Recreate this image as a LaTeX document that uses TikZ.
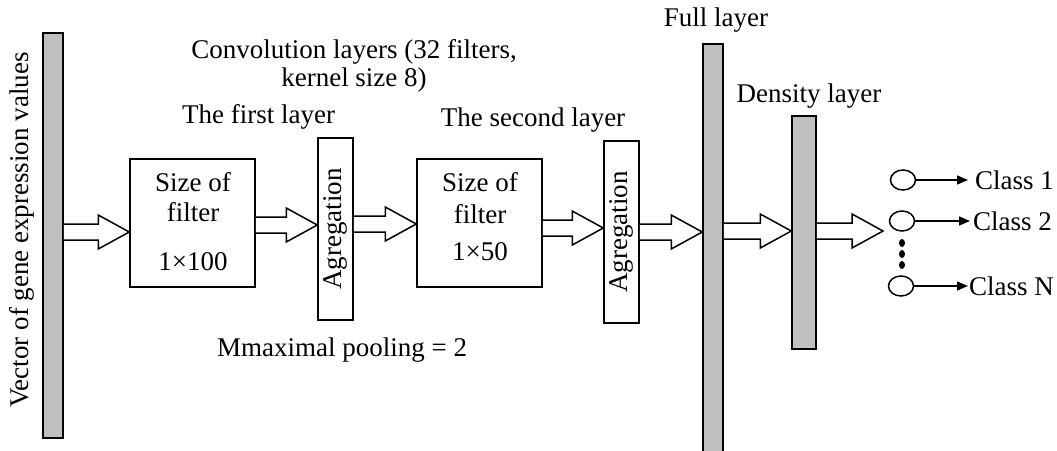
\documentclass[tikz,border=0pt]{standalone}
\usepackage{fontspec}
\setmainfont{Liberation Serif}
\usetikzlibrary{shapes.geometric,arrows.meta,calc}

% hollow block arrow between two points (same height, taken from the first)
\newcommand\fatarrow[2]{%
  \path[fat] let \p1=#1, \p2=#2 in
    (\x1,\y1+8pt) -- (\x2-31pt,\y1+8pt) -- (\x2-31pt,\y1+17pt) -- (\x2,\y1)
    -- (\x2-31pt,\y1-17pt) -- (\x2-31pt,\y1-8pt) -- (\x1,\y1-8pt);}

\begin{document}
\begin{tikzpicture}[x=1pt,y=-1pt,
  every node/.style={font=\fontsize{27}{30}\selectfont},
  bar/.style={draw, fill=black!25, line width=1.5pt, inner sep=0pt},
  box/.style={draw, fill=white, line width=1.5pt, inner sep=0pt, align=center},
  lbl/.style={inner sep=0pt, align=center},
  fat/.style={draw, fill=white, line width=1.5pt, line join=miter},
  outnode/.style={draw, ellipse, line width=1.5pt, minimum width=25pt, minimum height=20pt, inner sep=0pt},
  cls/.style={-{Triangle[length=11pt,width=9pt]}, line width=1.5pt},
]
\useasboundingbox (0,0) rectangle (1057,450);

% input vector
\node[bar, minimum width=20pt, minimum height=405pt] (vin) at (53,235.5) {};
\node[lbl, rotate=90] (vinlbl) at (22,230) {Vector of gene expression values};

% headings
\node[lbl, font=\fontsize{27}{28}\selectfont] (conv) at (354,66) {Convolution layers (32 filters,\\kernel size 8)};
\node[lbl] (first) at (258.5,117) {The first layer};
\node[lbl] (second) at (533,120) {The second layer};
\node[lbl] (pool) at (342,350) {Mmaximal pooling = 2};

% first convolution layer
\node[box, minimum width=125pt, minimum height=128pt] (f1) at (192.5,223) {};
\node[lbl, font=\fontsize{27}{30}\selectfont] (f1txt) at (193,222) {Size of\\filter\\[19pt]1×100};
\node[box, minimum width=35pt, minimum height=182pt] (a1) at (335.5,229) {};
\node[lbl, rotate=90] (a1txt) at (a1.center) {Agregation};

% second convolution layer
\node[box, minimum width=125pt, minimum height=128pt] (f2) at (479.5,223) {};
\node[lbl, font=\fontsize{27}{32}\selectfont] (f2txt) at (480,217) {Size of\\filter\\[5pt]1×50};
\node[box, minimum width=35pt, minimum height=182pt] (a2) at (621.5,232) {};
\node[lbl, rotate=90] (a2txt) at (a2.center) {Agregation};

% full and density layers
\node[bar, minimum width=20pt, minimum height=412pt] (full) at (713,250) {};
\node[lbl] (fulllbl) at (716,20) {Full layer};
\node[bar, minimum width=24pt, minimum height=233pt] (dens) at (804,232.5) {};
\node[lbl] (denslbl) at (809,96) {Density layer};

% output classes
\coordinate (outin) at (883,231);
\node[outnode] (o1) at (903,180) {};
\node[outnode] (o2) at (902,221) {};
\node[outnode] (oN) at (901,286) {};
\node[lbl, anchor=west] (k1) at (975,180) {Class 1};
\node[lbl, anchor=west] (k2) at (973,221) {Class 2};
\node[lbl, anchor=west] (kN) at (969,286) {Class N};
\draw[cls] (o1.east) -- ($(k1.west)+(-7,0)$);
\draw[cls] (o2.east) -- ($(k2.west)+(-3,0)$);
\draw[cls] (oN.east) -- ($(kN.west)+(-1,0)$);
\foreach \yy in {243,254,265} \fill (902,\yy) ellipse (3pt and 4pt);

% block arrows
\fatarrow{(vin.east |- 0,232)}{(f1.west |- 0,232)}
\fatarrow{(f1.east |- 0,225)}{(a1.west |- 0,225)}
\fatarrow{(a1.east |- 0,224)}{(f2.west |- 0,224)}
\fatarrow{(f2.east |- 0,228)}{(a2.west |- 0,228)}
\fatarrow{(a2.east |- 0,232)}{(full.west |- 0,232)}
\fatarrow{(full.east |- 0,231)}{(dens.west |- 0,231)}
\fatarrow{(dens.east |- 0,231)}{(outin)}
\end{tikzpicture}
\end{document}
